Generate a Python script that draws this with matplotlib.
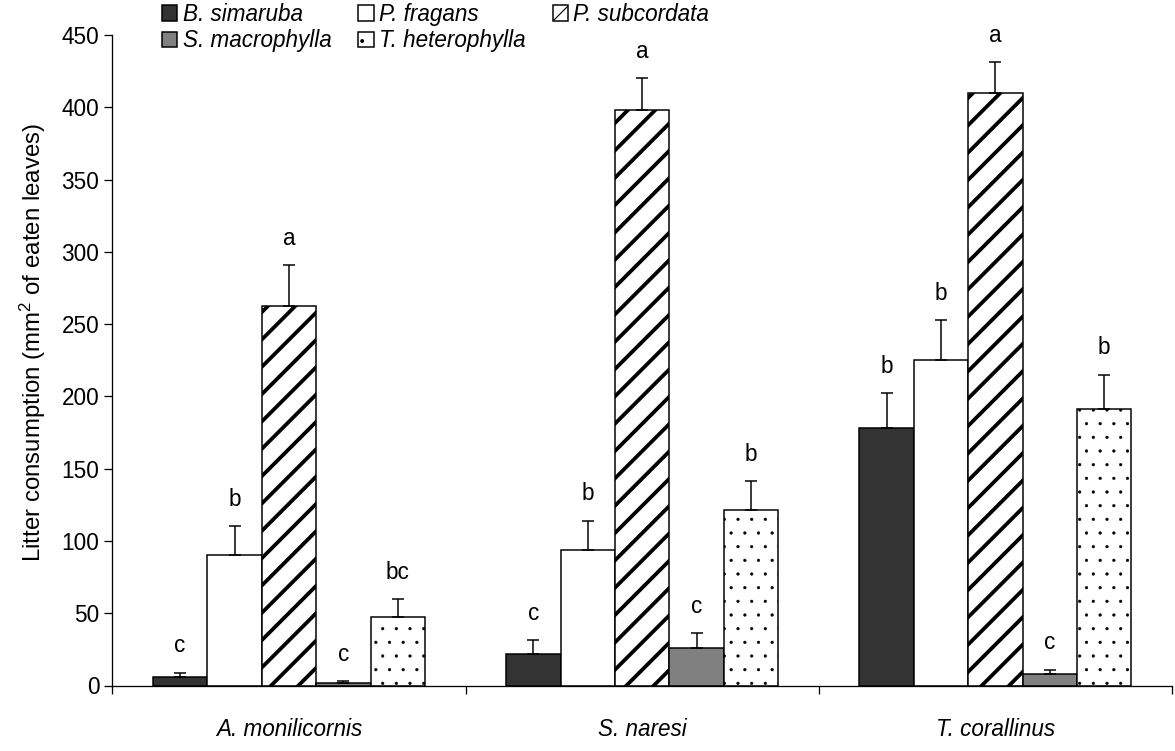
import numpy as np
import matplotlib
matplotlib.use("Agg")
import matplotlib.pyplot as plt

# data
groups = ["A. monilicornis", "S. naresi", "T. corallinus"]
species = ["B. simaruba", "P. fragans", "P. subcordata", "S. macrophylla", "T. heterophylla"]

b_simaruba = [5.7, 21.5, 178]
p_fragans = [90, 94, 225.5]
p_subcordata = [262.5, 398, 410]
s_macrophylla = [2, 26, 8]
t_heterophylla = [47.5, 121.5, 191.5]

# upper error bar lengths
err_b_simaruba = [3.2, 10, 24.5]
err_p_fragans = [20, 20, 27.5]
err_p_subcordata = [28.5, 22, 21]
err_s_macrophylla = [1, 10, 3]
err_t_heterophylla = [12.5, 20, 23.5]

letters_b_simaruba = ["c", "c", "b"]
letters_p_fragans = ["b", "b", "b"]
letters_p_subcordata = ["a", "a", "a"]
letters_s_macrophylla = ["c", "c", "c"]
letters_t_heterophylla = ["bc", "b", "b"]

yticks = [0, 50, 100, 150, 200, 250, 300, 350, 400, 450]

plt.rcParams['font.family'] = ['Liberation Sans', 'DejaVu Sans']
plt.rcParams['mathtext.fontset'] = 'custom'
plt.rcParams['mathtext.rm'] = 'Liberation Sans'
plt.rcParams['mathtext.it'] = 'Liberation Sans:italic'

# dpi chosen so that the hatch spacing is close to the original
DPI = 82
W, H = 1175, 751


def pt(px):
    return px * 72.0 / DPI


values = [b_simaruba, p_fragans, p_subcordata, s_macrophylla, t_heterophylla]
errors = [err_b_simaruba, err_p_fragans, err_p_subcordata, err_s_macrophylla, err_t_heterophylla]
letters = [letters_b_simaruba, letters_p_fragans, letters_p_subcordata,
           letters_s_macrophylla, letters_t_heterophylla]
faces = ["#333333", "white", "white", "#808080", "white"]
hatches = [None, None, "/", None, "."]
hatch_lw = [pt(1), pt(1), pt(3.8), pt(1), pt(0.4)]

fs = pt(22.5)
fig = plt.figure(figsize=(W / DPI, H / DPI), dpi=DPI)
ax = fig.add_axes([112.3 / W, 65.5 / H, (1172 - 112.3) / W, (685.5 - 35) / H])

x = np.arange(len(groups))
w = 0.154
handles = []
for j in range(len(species)):
    pos = x + (j - 2) * w
    with plt.rc_context({'hatch.linewidth': hatch_lw[j]}):
        bars = ax.bar(pos, values[j], width=w, color=faces[j], edgecolor="black",
                      linewidth=pt(1.5), hatch=hatches[j], label=species[j], zorder=2)
    for p in bars:
        if hasattr(p, "set_hatch_linewidth"):
            p.set_hatch_linewidth(hatch_lw[j])
    handles.append(bars)
    ax.errorbar(pos, values[j], yerr=[np.zeros(len(groups)), errors[j]], fmt="none",
                ecolor="black", elinewidth=pt(1.5), capsize=pt(6), capthick=pt(1.5), zorder=3)
    for k in range(len(groups)):
        ax.text(pos[k], values[j][k] + errors[j][k] + 14, letters[j][k],
                ha="center", va="baseline", fontsize=fs, clip_on=False)

ax.set_xlim(-0.5, 2.5)
ax.set_ylim(0, 450)
ax.set_yticks(yticks)
ax.tick_params(axis="y", direction="out", length=pt(8), width=pt(1.3), pad=pt(5), labelsize=fs)
ax.set_xticks([-0.5, 0.5, 1.5, 2.5])
ax.set_xticklabels([])
ax.set_xticks(x, minor=True)
ax.set_xticklabels(groups, minor=True, fontsize=fs, style="italic")
ax.tick_params(axis="x", which="major", direction="out", length=pt(8), width=pt(1.3))
ax.tick_params(axis="x", which="minor", length=0, pad=pt(33))
for s in ["top", "right"]:
    ax.spines[s].set_visible(False)
for s in ["left", "bottom"]:
    ax.spines[s].set_linewidth(pt(1.3))

fig.text(33 / W, 1 - 343 / H, r"Litter consumption (mm$^2$ of eaten leaves)",
         rotation=90, ha="center", va="center", fontsize=pt(24))

order = [0, 3, 1, 4, 2]
fig.legend([handles[i] for i in order], [species[i] for i in order],
           loc="upper left", bbox_to_anchor=(162 / W, 1 - 3 / H), ncol=3,
           frameon=False, borderpad=0, borderaxespad=0,
           handlelength=0.67, handleheight=0.67, handletextpad=0.25,
           columnspacing=1.2, labelspacing=0.15,
           prop={"family": "Liberation Sans", "style": "italic", "size": fs})

fig.savefig("out.png", dpi=DPI)
